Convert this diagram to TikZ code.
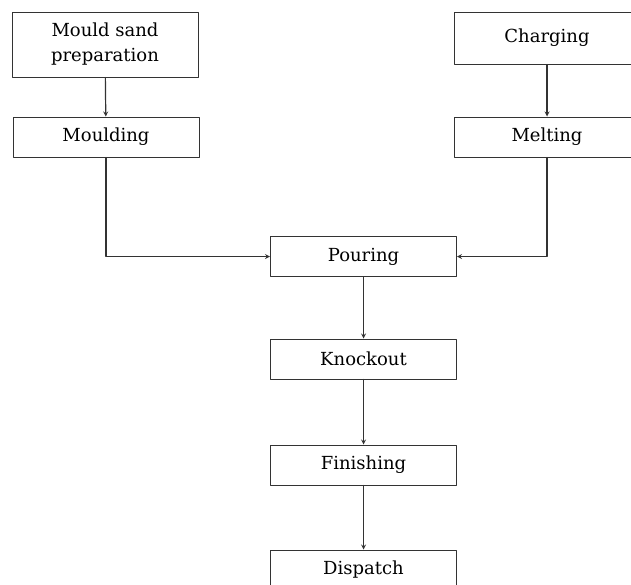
\documentclass[tikz,border=0pt]{standalone}
\usepackage{fontspec}
\setmainfont{DejaVu Serif}
\usetikzlibrary{arrows}

\tikzset{stage/.style={draw=black!80,line width=1pt,minimum width=186pt,minimum height=40pt,
  inner sep=0pt,align=center,font=\fontsize{18}{25}\selectfont}}

\begin{document}
\begin{tikzpicture}[line cap=round,line join=round,>=stealth,x=1pt,y=-1pt]
\useasboundingbox (0,0) rectangle (631,584);
\clip (0,0) rectangle (631,584);
%
\node[stage,minimum height=65pt] (sand) at (105,44.5) {Mould sand\\preparation};
\node[stage] (mould) at (106,137) {Moulding};
\node[stage,minimum height=52pt] (charge) at (547,38) {Charging};
\node[stage] (melt) at (547,137) {Melting};
%
\node[stage] (pour) at (363.5,256.5) {Pouring};
\node[stage] (knock) at (363.5,359) {Knockout};
\node[stage] (finish) at (363.5,465) {Finishing};
\node[stage] (disp) at (363.5,570) {Dispatch};
%
\begin{scope}[draw=black!80,line width=1.2pt]
\draw[->] (sand) -- (mould);
\draw[->] (charge) -- (melt);
\draw[->] (mould.south) |- (pour.west);
\draw[->] (melt.south) |- (pour.east);
\draw[->] (pour) -- (knock);
\draw[->] (knock) -- (finish);
\draw[->] (finish) -- (disp);
\end{scope}
\end{tikzpicture}
\end{document}
